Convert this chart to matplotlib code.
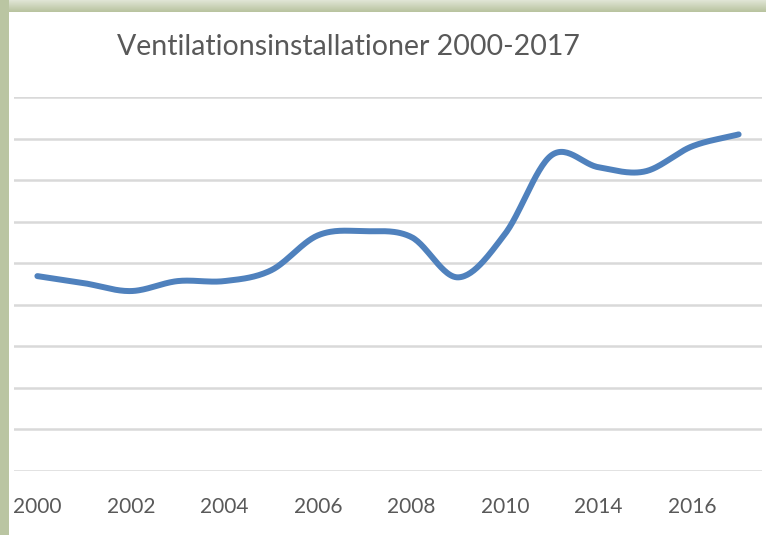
import numpy as np
import matplotlib.pyplot as plt
from matplotlib.patches import Rectangle

# categories on the x axis (only every second one is labelled)
years = ['2000', '2001', '2002', '2003', '2004', '2005', '2006', '2007',
         '2008', '2009', '2010', '2012', '2014', '2015', '2016', '2017']
# values (gridline units, no y scale shown)
values = [4.69, 4.52, 4.33, 4.57, 4.57, 4.83, 5.67, 5.77,
          5.63, 4.66, 5.70, 7.60, 7.31, 7.21, 7.81, 8.10]
title = 'Ventilationsinstallationer 2000-2017'


def smooth(xs, ys, n=30):
    # catmull-rom curve through the points, like Excel's "smoothed line"
    px = np.concatenate([[2 * xs[0] - xs[1]], xs, [2 * xs[-1] - xs[-2]]])
    py = np.concatenate([[2 * ys[0] - ys[1]], ys, [2 * ys[-1] - ys[-2]]])
    ox, oy = [], []
    for i in range(1, len(px) - 2):
        t = np.linspace(0, 1, n, endpoint=(i == len(px) - 3))
        for p, out in ((px, ox), (py, oy)):
            p0, p1, p2, p3 = p[i - 1], p[i], p[i + 1], p[i + 2]
            out.extend(0.5 * (2 * p1 + (-p0 + p2) * t
                              + (2 * p0 - 5 * p1 + 4 * p2 - p3) * t ** 2
                              + (-p0 + 3 * p1 - 3 * p2 + p3) * t ** 3))
    return np.array(ox), np.array(oy)


plt.rcParams['font.family'] = ['Lato', 'DejaVu Sans']

fig = plt.figure(figsize=(7.66, 5.35), dpi=100)
fig.patch.set_facecolor('white')

# green frame: left strip and top strip with a soft gradient
fig.patches.append(Rectangle((0, 0), 9 / 766, 1, transform=fig.transFigure,
                             facecolor='#bac5a2', edgecolor='none', zorder=0))
top = fig.add_axes([0, 1 - 12 / 535, 1, 12 / 535])
grad = np.linspace(0, 1, 12)[:, None]
top.imshow(grad, aspect='auto', cmap=plt.matplotlib.colors.LinearSegmentedColormap.from_list(
    'g', ['#dfe4d4', '#b9c4a0']), extent=[0, 1, 0, 1])
top.axis('off')

ax = fig.add_axes([14 / 766, 64 / 535, 748 / 766, 374 / 535])
xs = np.arange(len(years))
sx, sy = smooth(xs.astype(float), np.array(values))
ax.plot(sx, sy, color='#4f81bd', lw=4.3, solid_capstyle='round', zorder=3)

ax.set_xlim(-0.5, len(years) - 0.5)
ax.set_ylim(0, 9)
ax.set_yticks(np.arange(0, 10))
ax.yaxis.grid(True, color='#d9d9d9', lw=1.8)
ax.set_axisbelow(True)
ax.tick_params(axis='y', length=0, labelleft=False)
ax.set_xticks(xs[::2])
ax.set_xticklabels(years[::2], fontsize=15, color='#595959')
ax.tick_params(axis='x', length=0, pad=19)
for s in ax.spines.values():
    s.set_visible(False)

fig.text(348 / 766, 1 - 47 / 535, title, fontsize=20.5, color='#595959',
         ha='center', va='center')

fig.savefig('out.png', dpi=100)
